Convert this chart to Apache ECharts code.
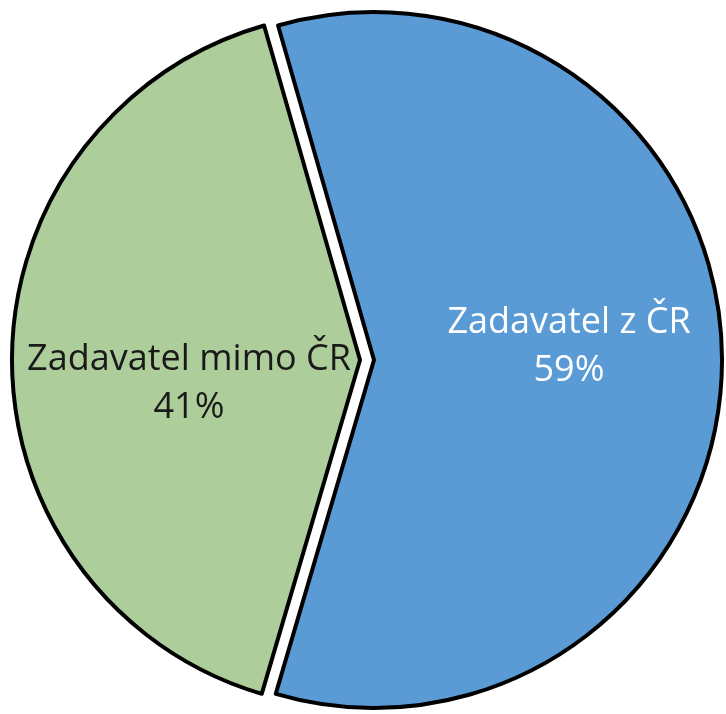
<!DOCTYPE html>
<html>
<head>
<meta charset="utf-8">
<script src="https://cdn.jsdelivr.net/npm/echarts@6/dist/echarts.min.js"></script>
<style>
  html, body { margin: 0; padding: 0; background: #fff; }
  #chart { width: 726px; height: 714px; }
</style>
</head>
<body>
<div id="chart"></div>
<script>
const categories = ['Zadavatel z ČR', 'Zadavatel mimo ČR']
const values = [59, 41]
const colors = ['#5B9BD5', '#ADCE9B']
const labelColors = ['#ffffff', '#1a1a1a']

// nudge labels to where the original put them
const labelShift = [[18, -14], [6, 24]]

const myChart = echarts.init(document.getElementById('chart'))

const data = categories.map((name, i) => ({
  name,
  value: values[i],
  selected: true,
  itemStyle: { color: colors[i] },
  select: { itemStyle: { color: colors[i], borderColor: '#000', borderWidth: 4 } },
  label: { color: labelColors[i] },
}))

myChart.setOption({
  animation: false,
  series: [
    {
      type: 'pie',
      center: [367, 360],
      radius: [0, 348],
      startAngle: 106,
      selectedMode: 'multiple',
      selectedOffset: 7,
      data,
      itemStyle: {
        borderColor: '#000',
        borderWidth: 4,
      },
      emphasis: { disabled: true },
      label: {
        show: true,
        position: 'inside',
        formatter: (p) => p.name + '\n' + p.value + '%',
        fontFamily: 'Open Sans',
        fontSize: 36,
        lineHeight: 48,
        align: 'center',
      },
      labelLine: { show: false },
      labelLayout: (p) => ({
        dx: labelShift[p.dataIndex][0],
        dy: labelShift[p.dataIndex][1],
      }),
    },
  ],
})
</script>
</body>
</html>
